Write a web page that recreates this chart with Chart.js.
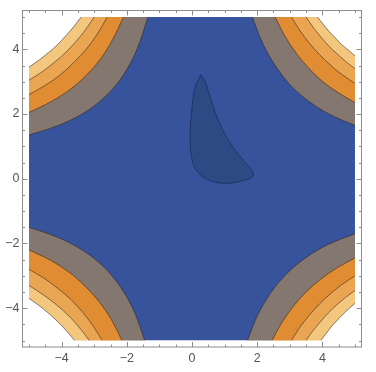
<!DOCTYPE html>
<html>
<head>
<meta charset="utf-8">
<script src="https://cdn.jsdelivr.net/npm/chart.js@4.4.1/dist/chart.umd.min.js"></script>
<style>
  html, body { margin: 0; padding: 0; background: #fff; }
  #wrap { width: 376px; height: 372px; }
</style>
</head>
<body>
<div id="wrap"><canvas id="plot"></canvas></div>
<script>
// tick positions
const majorTicks = [-4, -2, 0, 2, 4];
const minorTicks = [-5, -4.5, -3.5, -3, -2.5, -1.5, -1, -0.5, 0.5, 1, 1.5, 2.5, 3, 3.5, 4.5, 5];
const dataRange = [-5, 5];

// filled square of the plot
const plotSquare = [[-5, -5], [5, -5], [5, 5], [-5, 5], [-5, -5]];

// contour lines in each corner, from the inner (blue edge) to the outer one
const topLeft = [
    [[-5, 1.35], [-4.02, 1.68], [-3.23, 2.09], [-2.60, 2.60], [-2.09, 3.23], [-1.68, 4.02], [-1.35, 5]],
    [[-5, 2.05], [-4.33, 2.38], [-3.74, 2.76], [-3.24, 3.20], [-2.80, 3.71], [-2.43, 4.31], [-2.10, 5]],
    [[-5, 2.60], [-4.48, 2.90], [-4.02, 3.23], [-3.61, 3.61], [-3.23, 4.02], [-2.90, 4.48], [-2.60, 5]],
    [[-5, 3.05], [-4.59, 3.31], [-4.22, 3.60], [-3.87, 3.91], [-3.56, 4.24], [-3.27, 4.60], [-3.00, 5]],
    [[-5, 3.45], [-4.69, 3.67], [-4.40, 3.90], [-4.12, 4.15], [-3.87, 4.42], [-3.63, 4.70], [-3.40, 5]]
];
const topRight = [
    [[5, 1.65], [4.24, 1.98], [3.59, 2.39], [3.04, 2.87], [2.58, 3.46], [2.18, 4.16], [1.85, 5]],
    [[5, 2.35], [4.47, 2.67], [3.99, 3.02], [3.57, 3.43], [3.19, 3.89], [2.85, 4.41], [2.55, 5]],
    [[5, 2.95], [4.60, 3.22], [4.24, 3.52], [3.91, 3.84], [3.60, 4.19], [3.31, 4.58], [3.05, 5]],
    [[5, 3.40], [4.71, 3.63], [4.44, 3.87], [4.18, 4.12], [3.94, 4.40], [3.71, 4.69], [3.50, 5]],
    [[5, 3.80], [4.79, 3.98], [4.58, 4.16], [4.39, 4.36], [4.20, 4.56], [4.02, 4.78], [3.85, 5]]
];
const bottomLeft = [
    [[-5, -1.50], [-4.07, -1.83], [-3.31, -2.24], [-2.69, -2.74], [-2.19, -3.35], [-1.78, -4.09], [-1.45, -5]],
    [[-5, -2.20], [-4.34, -2.52], [-3.77, -2.89], [-3.28, -3.32], [-2.85, -3.80], [-2.47, -4.36], [-2.15, -5]],
    [[-5, -2.80], [-4.53, -3.08], [-4.10, -3.40], [-3.71, -3.74], [-3.36, -4.12], [-3.04, -4.54], [-2.75, -5]],
    [[-5, -3.30], [-4.63, -3.54], [-4.29, -3.79], [-3.97, -4.06], [-3.67, -4.35], [-3.40, -4.67], [-3.15, -5]],
    [[-5, -3.70], [-4.73, -3.89], [-4.48, -4.09], [-4.24, -4.30], [-4.02, -4.52], [-3.80, -4.76], [-3.60, -5]]
];
const bottomRight = [
    [[5, -1.70], [4.18, -2.03], [3.49, -2.44], [2.92, -2.92], [2.44, -3.49], [2.03, -4.18], [1.70, -5]],
    [[5, -2.45], [4.44, -2.76], [3.94, -3.11], [3.50, -3.50], [3.11, -3.94], [2.76, -4.44], [2.45, -5]],
    [[5, -3.00], [4.60, -3.27], [4.24, -3.56], [3.91, -3.87], [3.60, -4.22], [3.31, -4.59], [3.05, -5]],
    [[5, -3.45], [4.71, -3.67], [4.44, -3.90], [4.18, -4.15], [3.94, -4.42], [3.71, -4.70], [3.50, -5]],
    [[5, -3.85], [4.81, -4.02], [4.62, -4.20], [4.44, -4.39], [4.27, -4.58], [4.11, -4.79], [3.95, -5]]
];

// the low valley in the middle
const valley = [
    [0.27, 3.21], [0.09, 2.80], [-0.01, 2.09], [-0.06, 1.27], [-0.01, 0.65], [0.14, 0.25],
    [0.45, -0.01], [0.96, -0.14], [1.47, -0.08], [1.83, 0.04], [1.88, 0.19], [1.68, 0.45],
    [1.27, 0.96], [0.86, 1.68], [0.60, 2.39], [0.40, 3.01], [0.27, 3.21]
];

// colours, lowest level first
const baseColor = '#37539c';
const valleyColor = '#2d4a85';
const bandColors = ['#83776f', '#e08c33', '#eaa552', '#f4c77e', '#ffffff'];
const lineColor = 'rgba(45, 32, 25, 0.7)';

const toXY = pts => pts.map(p => ({ x: p[0], y: p[1] }));

const datasets = [];
datasets.push({
    data: toXY(plotSquare),
    backgroundColor: baseColor,
    borderWidth: 0,
    fill: 'shape',
    order: 100
});

// top corners fill up to the top edge, bottom corners down to the bottom edge
[[topLeft, 'end'], [topRight, 'end'], [bottomLeft, 'start'], [bottomRight, 'start']].forEach(([lines, side]) => {
    lines.forEach((line, level) => {
        datasets.push({
            data: toXY(line),
            backgroundColor: bandColors[level],
            borderColor: lineColor,
            borderWidth: 0.8,
            tension: 0.35,
            fill: side,
            order: 90 - level * 10
        });
    });
});

datasets.push({
    data: toXY(valley),
    backgroundColor: valleyColor,
    borderColor: 'rgba(25, 35, 70, 0.75)',
    borderWidth: 0.8,
    fill: 'shape',
    tension: 0.4,
    order: 10
});

const fmt = v => (v < 0 ? '\u2212' + Math.abs(v) : String(v));

// white margin between the data square and the frame (fills spill into it)
const frameMargin = {
    id: 'frameMargin',
    afterDatasetsDraw(chart) {
        const { ctx, chartArea: a } = chart;
        const xs = chart.scales.x, ys = chart.scales.y;
        const l = xs.getPixelForValue(dataRange[0]), r = xs.getPixelForValue(dataRange[1]);
        const t = ys.getPixelForValue(dataRange[1]), b = ys.getPixelForValue(dataRange[0]);
        ctx.save();
        ctx.fillStyle = '#ffffff';
        ctx.fillRect(a.left, a.top, a.right - a.left, t - a.top);
        ctx.fillRect(a.left, b, a.right - a.left, a.bottom - b);
        ctx.fillRect(a.left, a.top, l - a.left, a.bottom - a.top);
        ctx.fillRect(r, a.top, a.right - r, a.bottom - a.top);
        ctx.restore();
    }
};

// frame with inward ticks on all four sides
const frameTicks = {
    id: 'frameTicks',
    afterDraw(chart) {
        const { ctx, chartArea: a } = chart;
        const xs = chart.scales.x, ys = chart.scales.y;
        ctx.save();
        ctx.strokeStyle = '#8c8c8c';
        ctx.lineWidth = 1;
        ctx.strokeRect(a.left, a.top, a.right - a.left, a.bottom - a.top);
        const tick = (vals, len) => {
            ctx.beginPath();
            vals.forEach(v => {
                const px = Math.round(xs.getPixelForValue(v)) + 0.5;
                const py = Math.round(ys.getPixelForValue(v)) + 0.5;
                ctx.moveTo(px, a.bottom); ctx.lineTo(px, a.bottom - len);
                ctx.moveTo(px, a.top); ctx.lineTo(px, a.top + len);
                ctx.moveTo(a.left, py); ctx.lineTo(a.left + len, py);
                ctx.moveTo(a.right, py); ctx.lineTo(a.right - len, py);
            });
            ctx.stroke();
        };
        tick(majorTicks, 5);
        tick(minorTicks, 2.5);
        ctx.restore();
    }
};

const tickFont = { family: 'Liberation Sans', size: 12.5 };

new Chart(document.getElementById('plot'), {
    type: 'line',
    data: { datasets: datasets },
    options: {
        responsive: true,
        maintainAspectRatio: false,
        animation: false,
        events: [],
        layout: { padding: { top: 8.5, right: 14.5, left: 0, bottom: 0 } },
        elements: { point: { radius: 0 } },
        plugins: {
            legend: { display: false },
            tooltip: { enabled: false },
            filler: { propagate: false }
        },
        scales: {
            x: {
                type: 'linear',
                min: -5.2,
                max: 5.2,
                grid: { display: false, drawTicks: false },
                border: { display: false },
                afterBuildTicks: s => { s.ticks = majorTicks.map(v => ({ value: v })); },
                afterFit: s => { s.height = 25; },
                ticks: { font: tickFont, color: '#555', padding: 4.5, maxRotation: 0, callback: fmt }
            },
            y: {
                type: 'linear',
                min: -5.2,
                max: 5.2,
                grid: { display: false, drawTicks: false },
                border: { display: false },
                afterBuildTicks: s => { s.ticks = majorTicks.map(v => ({ value: v })); },
                afterFit: s => { s.width = 22.5; },
                ticks: { font: tickFont, color: '#555', padding: 3, callback: fmt }
            }
        }
    },
    plugins: [frameMargin, frameTicks]
});
</script>
</body>
</html>
